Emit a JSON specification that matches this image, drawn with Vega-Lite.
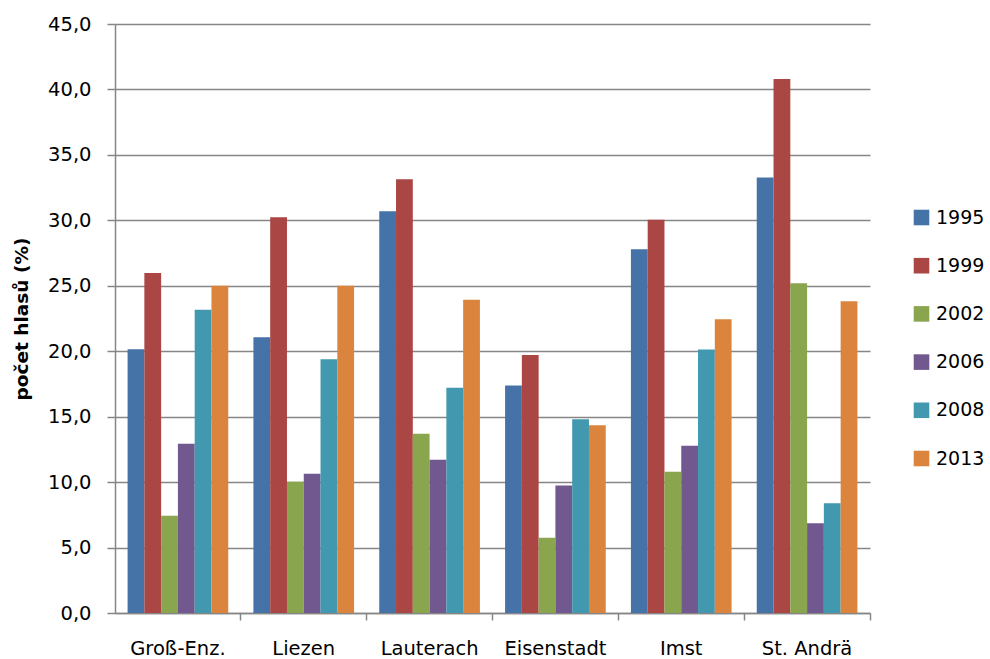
{
  "$schema": "https://vega.github.io/schema/vega-lite/v6.json",
  "width": 755,
  "height": 589,
  "autosize": {"type": "none"},
  "padding": {"left": 115, "top": 24, "right": 120, "bottom": 46},
  "background": "white",
  "config": {
    "view": {"stroke": null},
    "font": "DejaVu Sans",
    "axis": {"labelColor": "#000000", "titleColor": "#000000", "domainColor": "#868686", "tickColor": "#868686", "gridColor": "#868686"}
  },
  "data": {
    "values": [
      {"mesto": "Groß-Enz.", "rok": "1995", "hodnota": 20.15},
      {"mesto": "Groß-Enz.", "rok": "1999", "hodnota": 25.97},
      {"mesto": "Groß-Enz.", "rok": "2002", "hodnota": 7.43},
      {"mesto": "Groß-Enz.", "rok": "2006", "hodnota": 12.93},
      {"mesto": "Groß-Enz.", "rok": "2008", "hodnota": 23.17},
      {"mesto": "Groß-Enz.", "rok": "2013", "hodnota": 25.0},
      {"mesto": "Liezen", "rok": "1995", "hodnota": 21.06},
      {"mesto": "Liezen", "rok": "1999", "hodnota": 30.23},
      {"mesto": "Liezen", "rok": "2002", "hodnota": 10.03},
      {"mesto": "Liezen", "rok": "2006", "hodnota": 10.64},
      {"mesto": "Liezen", "rok": "2008", "hodnota": 19.38},
      {"mesto": "Liezen", "rok": "2013", "hodnota": 25.0},
      {"mesto": "Lauterach", "rok": "1995", "hodnota": 30.69},
      {"mesto": "Lauterach", "rok": "1999", "hodnota": 33.13},
      {"mesto": "Lauterach", "rok": "2002", "hodnota": 13.70},
      {"mesto": "Lauterach", "rok": "2006", "hodnota": 11.71},
      {"mesto": "Lauterach", "rok": "2008", "hodnota": 17.21},
      {"mesto": "Lauterach", "rok": "2013", "hodnota": 23.93},
      {"mesto": "Eisenstadt", "rok": "1995", "hodnota": 17.39},
      {"mesto": "Eisenstadt", "rok": "1999", "hodnota": 19.71},
      {"mesto": "Eisenstadt", "rok": "2002", "hodnota": 5.75},
      {"mesto": "Eisenstadt", "rok": "2006", "hodnota": 9.75},
      {"mesto": "Eisenstadt", "rok": "2008", "hodnota": 14.80},
      {"mesto": "Eisenstadt", "rok": "2013", "hodnota": 14.34},
      {"mesto": "Imst", "rok": "1995", "hodnota": 27.8},
      {"mesto": "Imst", "rok": "1999", "hodnota": 30.05},
      {"mesto": "Imst", "rok": "2002", "hodnota": 10.8},
      {"mesto": "Imst", "rok": "2006", "hodnota": 12.78},
      {"mesto": "Imst", "rok": "2008", "hodnota": 20.14},
      {"mesto": "Imst", "rok": "2013", "hodnota": 22.44},
      {"mesto": "St. Andrä", "rok": "1995", "hodnota": 33.28},
      {"mesto": "St. Andrä", "rok": "1999", "hodnota": 40.79},
      {"mesto": "St. Andrä", "rok": "2002", "hodnota": 25.19},
      {"mesto": "St. Andrä", "rok": "2006", "hodnota": 6.85},
      {"mesto": "St. Andrä", "rok": "2008", "hodnota": 8.38},
      {"mesto": "St. Andrä", "rok": "2013", "hodnota": 23.81}
    ]
  },
  "mark": {"type": "bar"},
  "encoding": {
    "x": {
      "field": "mesto",
      "type": "nominal",
      "sort": ["Groß-Enz.", "Liezen", "Lauterach", "Eisenstadt", "Imst", "St. Andrä"],
      "scale": {"paddingInner": 0.2, "paddingOuter": 0.1},
      "axis": {
        "title": null,
        "labelAngle": 0,
        "labelFontSize": 19.5,
        "bandPosition": 1.125,
        "labelOffset": 0,
        "tickSize": 7,
        "labelPadding": 19,
        "domainWidth": 1.5,
        "tickWidth": 1.5
      }
    },
    "xOffset": {
      "field": "rok",
      "type": "nominal",
      "scale": {"paddingInner": 0, "paddingOuter": 0}
    },
    "y": {
      "field": "hodnota",
      "type": "quantitative",
      "scale": {"domain": [0, 45], "nice": false},
      "axis": {
        "title": "počet hlasů  (%)",
        "titleFontSize": 18.5,
        "titleFontWeight": "bold",
        "titlePadding": 16,
        "values": [0, 5, 10, 15, 20, 25, 30, 35, 40, 45],
        "labelExpr": "replace(format(datum.value, '.1f'), '.', ',')",
        "labelFontSize": 19.5,
        "labelPadding": 16,
        "tickSize": 8,
        "grid": true,
        "gridWidth": 1.5,
        "domainWidth": 1.5,
        "tickWidth": 1.5
      }
    },
    "color": {
      "field": "rok",
      "type": "nominal",
      "scale": {
        "domain": ["1995", "1999", "2002", "2006", "2008", "2013"],
        "range": ["#4572A7", "#AA4643", "#89A54E", "#71588F", "#4198AF", "#DB843D"]
      },
      "legend": {
        "title": null,
        "orient": "none",
        "legendX": 797,
        "legendY": 184,
        "symbolType": "square",
        "symbolSize": 243,
        "symbolStrokeWidth": 0,
        "labelFontSize": 19,
        "labelOffset": 5,
        "rowPadding": 28.2,
        "labelColor": "#000000"
      }
    }
  }
}
